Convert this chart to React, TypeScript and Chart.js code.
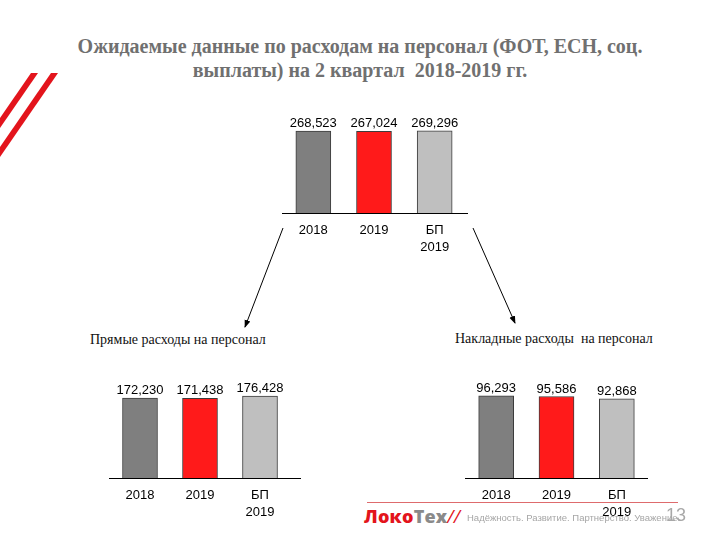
import React, { useEffect, useRef } from "react";
import { Chart, registerables } from "chart.js";

Chart.register(...registerables);

const categories: (string | string[])[] = ["2018", "2019", ["БП", "2019"]];
const totalValues = [268523, 267024, 269296];
const directValues = [172230, 171438, 176428];
const overheadValues = [96293, 95586, 92868];
const barColors = ["#7f7f7f", "#ff1a1a", "#bfbfbf"];

const FONT = "'Liberation Sans', Arial, sans-serif";

const labelPlugin = {
  id: "valueLabels",
  afterDatasetsDraw(chart: any) {
    const ctx = chart.ctx;
    const meta = chart.getDatasetMeta(0);
    const data = chart.data.datasets[0].data;
    ctx.save();
    ctx.font = `13px ${FONT}`;
    ctx.fillStyle = "#000";
    ctx.textAlign = "center";
    ctx.textBaseline = "alphabetic";
    meta.data.forEach((bar: any, i: number) => {
      ctx.fillText(Number(data[i]).toLocaleString("en-US"), bar.x, bar.y - 4);
    });
    ctx.restore();
  },
};

const baselinePlugin = {
  id: "baseline",
  afterDatasetsDraw(chart: any, _args: any, opts: any) {
    const { ctx, chartArea } = chart;
    ctx.save();
    ctx.strokeStyle = "#000";
    ctx.lineWidth = 1;
    const y = Math.round(chartArea.bottom) + 0.5;
    ctx.beginPath();
    ctx.moveTo(chartArea.left - (opts.extraLeft || 0), y);
    ctx.lineTo(chartArea.right + (opts.extra || 0), y);
    ctx.stroke();
    ctx.restore();
  },
};

type PanelProps = {
  values: number[];
  max: number;
  left: number;
  areaTop: number;
  areaWidth: number;
  areaHeight: number;
  extra: number;
};

const TOP_PAD = 22;
const AXIS_H = 50;

function BarPanel({ values, max, left, areaTop, areaWidth, areaHeight, extra }: PanelProps) {
  const ref = useRef<HTMLCanvasElement>(null);
  const width = areaWidth + extra + 2;
  const height = TOP_PAD + areaHeight + AXIS_H;
  useEffect(() => {
    if (!ref.current) return;
    const chart = new Chart(ref.current, {
      type: "bar",
      data: {
        labels: categories as any,
        datasets: [
          {
            data: values,
            backgroundColor: barColors,
            borderColor: "#3c3c3c",
            borderWidth: 1,
            barThickness: 35,
          },
        ],
      },
      options: {
        responsive: false,
        animation: false,
        layout: { padding: { top: TOP_PAD, right: extra, left: 2, bottom: 0 } },
        plugins: {
          legend: { display: false },
          tooltip: { enabled: false },
          baseline: { extra, extraLeft: 1 },
        } as any,
        scales: {
          x: {
            grid: { display: false, drawTicks: false },
            border: { display: false },
            ticks: {
              color: "#000",
              font: { family: FONT, size: 13, lineHeight: 1.3 },
              padding: 9,
              maxRotation: 0,
              autoSkip: false,
            },
            afterFit: (s: any) => {
              s.height = AXIS_H;
            },
          },
          y: { display: false, min: 0, max },
        },
      },
      plugins: [labelPlugin, baselinePlugin],
    });
    return () => chart.destroy();
  }, []);
  return (
    <canvas
      ref={ref}
      width={width}
      height={height}
      style={{ position: "absolute", left: left - 2, top: areaTop - TOP_PAD, width, height }}
    />
  );
}

export default function App() {
  return (
    <div
      style={{
        position: "fixed",
        left: 0,
        top: 0,
        width: 720,
        height: 540,
        background: "#fff",
        overflow: "hidden",
      }}
    >
      <svg width={720} height={540} style={{ position: "absolute", left: 0, top: 0 }}>
        <defs>
          <marker id="ah" markerWidth="8" markerHeight="8" refX="7" refY="4" orient="auto" markerUnits="userSpaceOnUse">
            <path d="M0,1 L8,4 L0,7 Z" fill="#000" />
          </marker>
        </defs>
        <polygon points="31,73 38,73 0,128 0,118" fill="#e3141c" />
        <polygon points="51,73 58,73 0,157 0,147" fill="#e3141c" />
        <line x1={283} y1={228} x2={245} y2={327} stroke="#000" strokeWidth={1} markerEnd="url(#ah)" />
        <line x1={473} y1={228} x2={515} y2={323} stroke="#000" strokeWidth={1} markerEnd="url(#ah)" />
        <line x1={367} y1={502.5} x2={678} y2={502.5} stroke="#de6b6d" strokeWidth={1} />
      </svg>

      <div
        style={{
          position: "absolute",
          left: 0,
          top: 34,
          width: 720,
          textAlign: "center",
          fontFamily: "'Liberation Serif', 'Times New Roman', serif",
          fontWeight: "bold",
          fontSize: 20,
          lineHeight: "24px",
          color: "#707070",
          whiteSpace: "pre",
        }}
      >
        {"Ожидаемые данные по расходам на персонал (ФОТ, ЕСН, соц.\nвыплаты) на 2 квартал  2018-2019 гг."}
      </div>

      <BarPanel values={totalValues} max={304500} left={283} areaTop={120} areaWidth={182} areaHeight={93} extra={3} />
      <BarPanel values={directValues} max={211000} left={110} areaTop={380} areaWidth={180} areaHeight={98} extra={11} />
      <BarPanel values={overheadValues} max={115000} left={466} areaTop={380} areaWidth={181} areaHeight={98} extra={1} />

      <div
        style={{
          position: "absolute",
          left: 90,
          top: 331,
          fontFamily: "'Liberation Serif', 'Times New Roman', serif",
          fontSize: 14,
          lineHeight: "17px",
          color: "#111",
          whiteSpace: "pre",
        }}
      >
        Прямые расходы на персонал
      </div>
      <div
        style={{
          position: "absolute",
          left: 455,
          top: 330,
          fontFamily: "'Liberation Serif', 'Times New Roman', serif",
          fontSize: 14,
          lineHeight: "17px",
          color: "#111",
          whiteSpace: "pre",
        }}
      >
        {"Накладные расходы  на персонал"}
      </div>

      <div
        style={{
          position: "absolute",
          left: 364,
          top: 505,
          fontFamily: "'Open Sans', Arial, sans-serif",
          fontWeight: 800,
          fontSize: 18,
          lineHeight: "22px",
          whiteSpace: "pre",
          letterSpacing: 0.2,
        }}
      >
        <span style={{ color: "#e3141c" }}>Локо</span>
        <span style={{ color: "#8a8a8a" }}>Тех</span>
        <span style={{ color: "#e3141c", fontWeight: 400, fontStyle: "italic" }}>//</span>
      </div>
      <div
        style={{
          position: "absolute",
          left: 467,
          top: 511,
          fontFamily: FONT,
          fontSize: 9.5,
          lineHeight: "13px",
          color: "#a6a6a6",
          whiteSpace: "pre",
        }}
      >
        Надёжность. Развитие. Партнерство. Уважение.
      </div>
      <div
        style={{
          position: "absolute",
          left: 666,
          top: 505,
          fontFamily: FONT,
          fontSize: 18,
          lineHeight: "20px",
          color: "#a8a8a8",
          whiteSpace: "pre",
        }}
      >
        13
      </div>
    </div>
  );
}
